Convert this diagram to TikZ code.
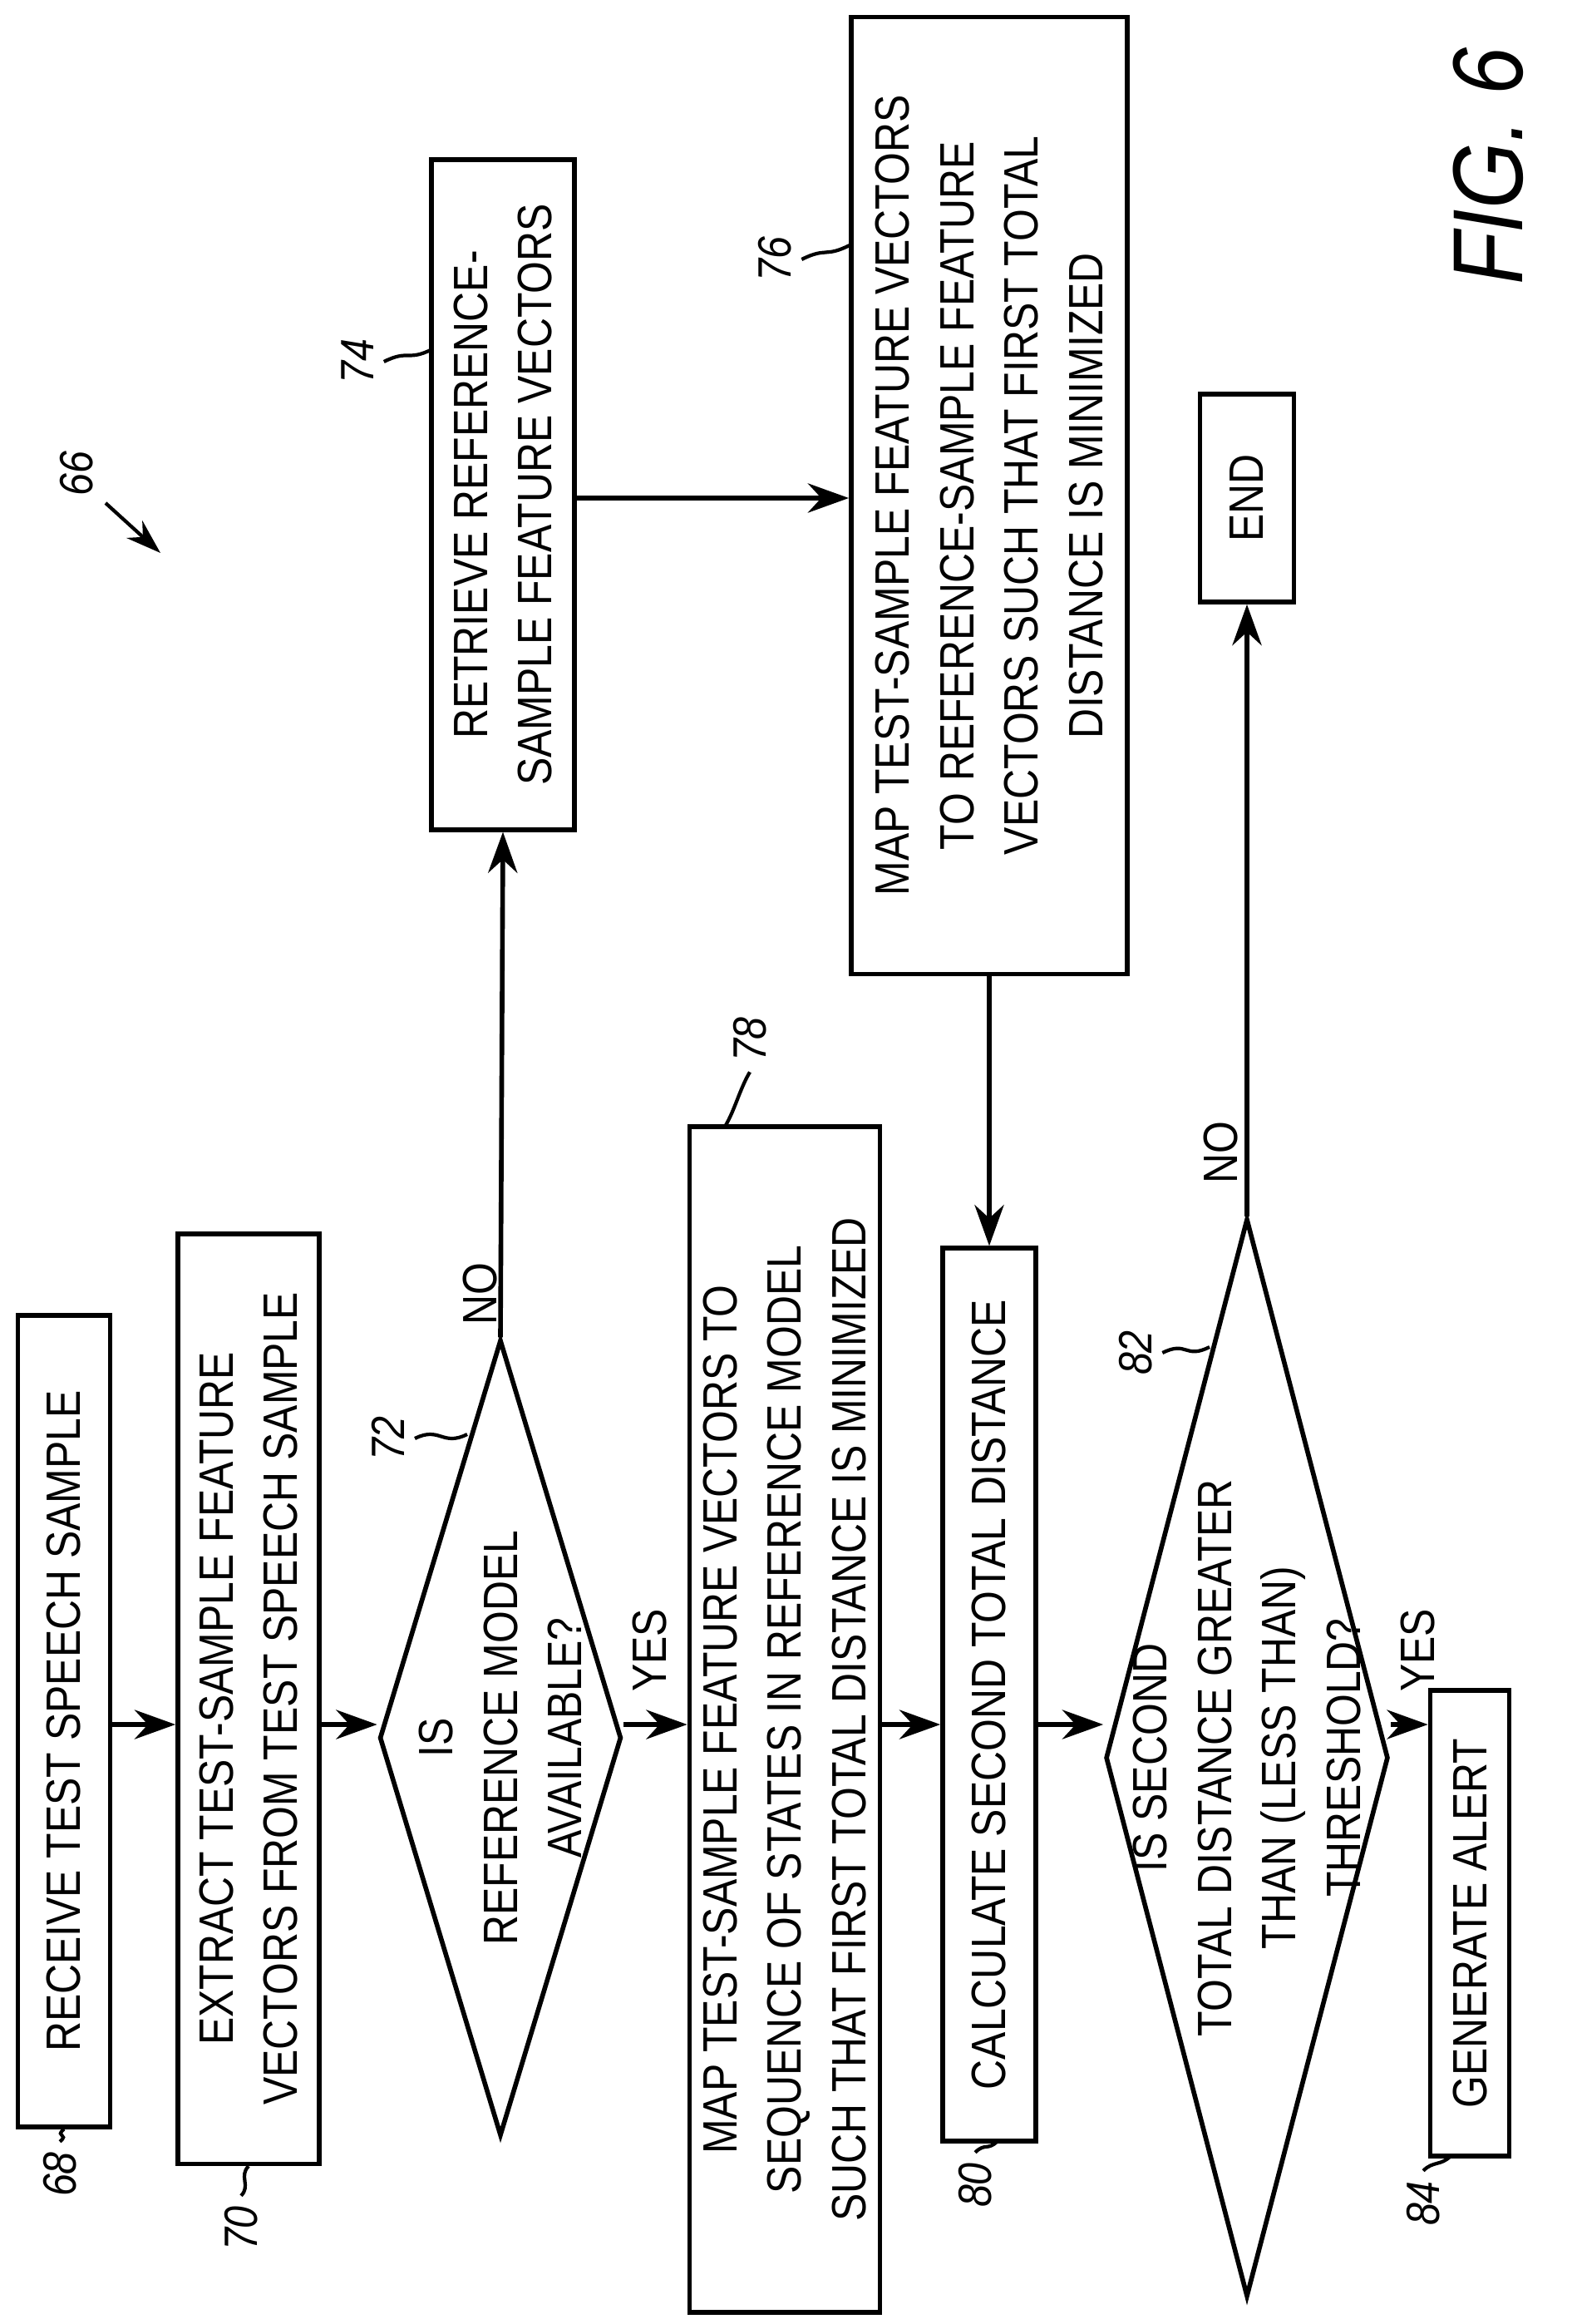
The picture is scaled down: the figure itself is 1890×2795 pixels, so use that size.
\documentclass[tikz,border=0pt]{standalone}
\usepackage{fontspec}
\setmainfont[FakeStretch=0.86]{Liberation Sans}
\usetikzlibrary{shapes.geometric,arrows.meta}
\begin{document}
\begin{tikzpicture}[x=0.01cm,y=-0.01cm,
  box/.style={draw,line width=1.6pt,rotate=90,align=center,inner sep=0pt,font=\fontsize{16.5}{22}\selectfont},
  dia/.style={draw,line width=1.6pt,diamond,inner sep=0pt},
  txt/.style={rotate=90,align=center,font=\fontsize{16.5}{22}\selectfont},
  lab/.style={rotate=90,font=\itshape\fontsize{16}{18}\selectfont},
  arr/.style={line width=1.6pt,-{Stealth[length=14pt,width=10pt]}},
  sq/.style={line width=1.2pt}]
\useasboundingbox (0,0) rectangle (1890,2795);
% boxes
\node[box,minimum width=9.75cm,minimum height=1.11cm] (n68) at (77,2070) {RECEIVE TEST SPEECH SAMPLE};
\node[box,minimum width=11.18cm,minimum height=1.70cm] (n70) at (299,2043) {EXTRACT TEST-SAMPLE FEATURE\\VECTORS FROM TEST SPEECH SAMPLE};
\node[dia,minimum width=2.91cm,minimum height=9.57cm] (n72) at (602,2090) {};
\node[txt] (t72) at (602,2090) {IS\\REFERENCE MODEL\\AVAILABLE?};
\node[box,minimum width=8.05cm,minimum height=1.72cm] (n74) at (605,595) {RETRIEVE REFERENCE-\\SAMPLE FEATURE VECTORS};
\node[box,minimum width=11.5cm,minimum height=3.32cm] (n76) at (1190,596) {MAP TEST-SAMPLE FEATURE VECTORS\\TO REFERENCE-SAMPLE FEATURE\\VECTORS SUCH THAT FIRST TOTAL\\DISTANCE IS MINIMIZED};
\node[box,minimum width=14.25cm,minimum height=2.29cm] (n78) at (944,2068) {MAP TEST-SAMPLE FEATURE VECTORS TO\\SEQUENCE OF STATES IN REFERENCE MODEL\\SUCH THAT FIRST TOTAL DISTANCE IS MINIMIZED};
\node[box,minimum width=10.73cm,minimum height=1.12cm] (n80) at (1190,2038) {CALCULATE SECOND TOTAL DISTANCE};
\node[dia,minimum width=3.40cm,minimum height=12.96cm] (n82) at (1500,2114) {};
\node[txt] (t82) at (1500,2114) {IS SECOND\\TOTAL DISTANCE GREATER\\THAN (LESS THAN)\\THRESHOLD?};
\node[box,minimum width=5.6cm,minimum height=0.95cm] (n84) at (1768,2313) {GENERATE ALERT};
\node[box,minimum width=2.5cm,minimum height=1.13cm] (end) at (1500,599) {END};
% connectors
\draw[arr] (n68.south |- 0,2074) -- (n70.north |- 0,2074);
\draw[arr] (n70.south |- 0,2074) -- (n72.west |- 0,2074);
\draw[arr] (n72.east |- 0,2074) -- (n78.north |- 0,2074);
\draw[arr] (n72.north) -- (n74.west);
\draw[arr] (n74.south |- 0,599) -- (n76.north |- 0,599);
\draw[arr] (n76.west) -- (n80.east);
\draw[arr] (n78.south |- 0,2074) -- (n80.north |- 0,2074);
\draw[arr] (n80.south |- 0,2074) -- (n82.west |- 0,2074);
\draw[arr] (n82.east |- 0,2074) -- (n84.north |- 0,2074);
\draw[arr] (n82.north) -- (end.west);
% branch labels
\node[txt] (y72) at (782,1985) {YES};
\node[txt] (no72) at (578,1556) {NO};
\node[txt] (y82) at (1705,1985) {YES};
\node[txt] (no82) at (1468,1386) {NO};
% reference numerals
\node[lab] (l66) at (92,570) {66};
\coordinate (a66) at (127,605);
\draw[line width=1.2pt,-{Stealth[length=12pt,width=8pt]}] (a66) -- (193,665);
\node[lab] (l68) at (72,2615) {68};
\draw[sq] (l68.east) .. controls +(12,-10) and +(-12,10) .. (n68.west);
\node[lab] (l70) at (290,2680) {70};
\draw[sq] (l70.east) .. controls +(12,-12) and +(-12,12) .. (n70.west);
\node[lab] (l72) at (467,1730) {72};
\draw[sq] (l72.south) .. controls +(30,-15) and +(-30,15) .. (562,1725);
\node[lab] (l74) at (430,435) {74};
\draw[sq] (l74.south) .. controls +(30,-15) and +(-30,15) .. (520,420);
\node[lab] (l76) at (932,312) {76};
\draw[sq] (l76.south) .. controls +(30,-15) and +(-30,15) .. (1022,295);
\node[lab] (l78) at (902,1250) {78};
\draw[sq] (l78.west) .. controls +(-12,20) and +(12,-20) .. (872,1355);
\node[lab] (l80) at (1173,2628) {80};
\draw[sq] (l80.east) .. controls +(12,-12) and +(-12,12) .. (1200,2575);
\node[lab] (l82) at (1366,1627) {82};
\draw[sq] (l82.south) .. controls +(30,-15) and +(-30,15) .. (1455,1620);
\node[lab] (l84) at (1712,2650) {84};
\draw[sq] (l84.east) .. controls +(12,-12) and +(-12,12) .. (1745,2593);
\node[rotate=90,font=\itshape\fontsize{34}{36}\selectfont] (fig) at (1790,200) {FIG. 6};
\end{tikzpicture}
\end{document}
